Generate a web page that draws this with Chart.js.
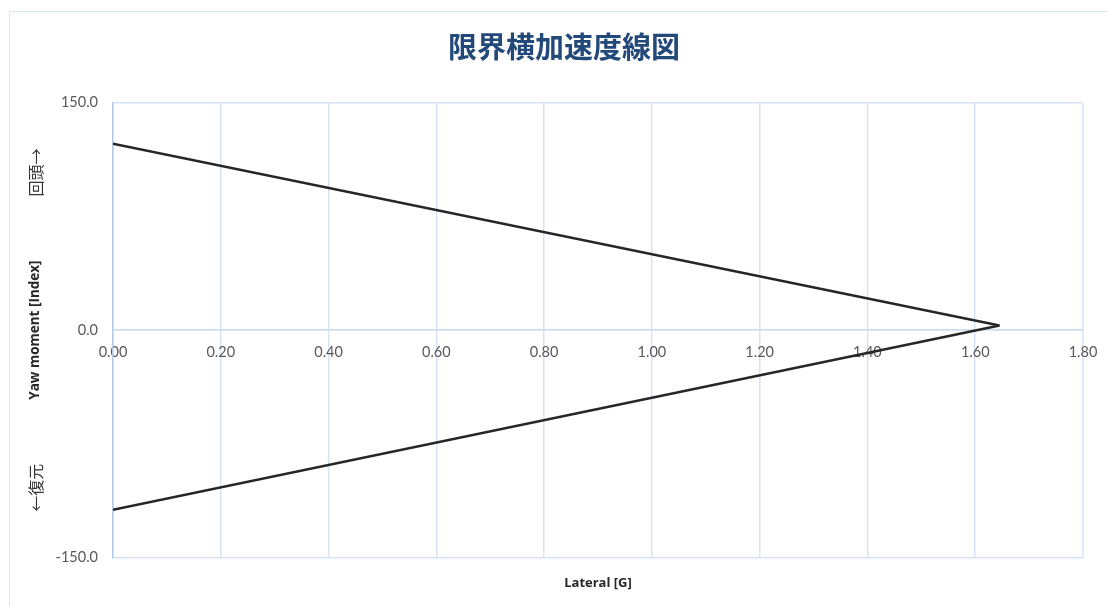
<!DOCTYPE html>
<html>
<head>
<meta charset="utf-8">
<script src="https://cdn.jsdelivr.net/npm/chart.js@4/dist/chart.umd.min.js"></script>
<style>
  html, body { margin: 0; padding: 0; background: #ffffff; overflow: hidden; }
  #frame {
    position: absolute; left: 9px; top: 11px; width: 1200px; height: 700px;
    border: 1.5px solid #dae3f1; box-sizing: border-box;
  }
  #chart { position: absolute; left: 0; top: 0; }
</style>
</head>
<body>
<div id="frame"></div>
<canvas id="chart" width="1108" height="606"></canvas>
<script>
// Lateral acceleration [G] at the two ends of each limit line
const lateralG = [0, 1.645];
// Yaw moment index: turn-in side (positive) and restoring side (negative)
const yawTurnIn = [123, 3];
const yawRestore = [-118.5, 3];

// Axis tick values
const xTickValues = [0, 0.2, 0.4, 0.6, 0.8, 1.0, 1.2, 1.4, 1.6, 1.8];
const yTickValues = [-150, 0, 150];

const toPoints = (xs, ys) => xs.map((x, i) => ({ x: x, y: ys[i] }));

const gridBlue = '#d9e3f3';
const tickGray = '#595959';
const latin = 'Lato, "Noto Sans", sans-serif';
const titleFont = '"Open Sans", "Noto Sans", sans-serif';

// Rotated direction captions beside the vertical axis
const directionLabels = {
  id: 'directionLabels',
  afterDraw(chart) {
    const { ctx } = chart;
    const y = chart.scales.y;
    const x = y.left - 9;
    ctx.save();
    ctx.font = '16px "Noto Sans CJK JP"';
    ctx.fillStyle = '#333333';
    ctx.textAlign = 'center';
    ctx.textBaseline = 'middle';
    [[104, '回頭→'], [-104, '←復元']].forEach(([v, t]) => {
      ctx.save();
      ctx.translate(x, y.getPixelForValue(v));
      ctx.rotate(-Math.PI / 2);
      ctx.fillText(t, 0, 0);
      ctx.restore();
    });
    ctx.restore();
  }
};

new Chart(document.getElementById('chart'), {
  type: 'scatter',
  data: {
    datasets: [
      {
        label: '回頭',
        data: toPoints(lateralG, yawTurnIn),
        showLine: true,
        borderColor: '#262626',
        borderWidth: 2.5,
        pointRadius: 0,
        pointHoverRadius: 0
      },
      {
        label: '復元',
        data: toPoints(lateralG, yawRestore),
        showLine: true,
        borderColor: '#262626',
        borderWidth: 2.5,
        pointRadius: 0,
        pointHoverRadius: 0
      }
    ]
  },
  options: {
    responsive: false,
    animation: false,
    devicePixelRatio: 1,
    layout: { padding: { left: 45, right: 25, top: 0, bottom: 0 } },
    plugins: {
      legend: { display: false },
      tooltip: { enabled: false },
      title: {
        display: true,
        text: '限界横加速度線図',
        color: '#23497a',
        font: { family: '"Noto Sans CJK JP"', size: 29, weight: 'bold' },
        padding: { top: 30, bottom: 38 }
      }
    },
    scales: {
      x: {
        type: 'linear',
        position: { y: 0 },
        min: 0,
        max: 1.8,
        afterBuildTicks: (s) => { s.ticks = xTickValues.map(v => ({ value: v })); },
        // labels may overhang the plot edges; the layout padding already leaves room
        afterFit: (s) => { s.paddingLeft = 0; s.paddingRight = 0; },
        ticks: {
          color: tickGray,
          font: { family: latin, size: 14.5 },
          padding: 14,
          maxRotation: 0,
          callback: (v) => Number(v).toFixed(2)
        },
        grid: { color: gridBlue, lineWidth: 1.5, drawTicks: false },
        border: { color: '#cfdcf0', width: 1.5 }
      },
      x2: {
        type: 'linear',
        position: 'bottom',
        min: 0,
        max: 1.8,
        ticks: { display: false },
        grid: { display: false, drawTicks: false },
        border: { display: false },
        title: {
          display: true,
          text: 'Lateral [G]',
          color: '#262626',
          font: { family: titleFont, size: 13, weight: 'bold' },
          padding: { top: 18, bottom: 15 }
        }
      },
      y: {
        type: 'linear',
        position: 'left',
        min: -150,
        max: 150,
        afterBuildTicks: (s) => { s.ticks = yTickValues.map(v => ({ value: v })); },
        afterFit: (s) => { s.width = 68; },
        ticks: {
          color: tickGray,
          font: { family: latin, size: 14.5 },
          padding: 15,
          callback: (v) => Number(v).toFixed(1)
        },
        grid: { color: gridBlue, lineWidth: 1.5, drawTicks: false },
        border: { color: '#b4c9ea', width: 1.5 },
        title: {
          display: true,
          text: 'Yaw moment [Index]',
          color: '#262626',
          font: { family: titleFont, size: 13.5, weight: 'bold' },
          padding: { top: -18, bottom: 0 }
        }
      }
    }
  },
  plugins: [directionLabels]
});
</script>
</body>
</html>
